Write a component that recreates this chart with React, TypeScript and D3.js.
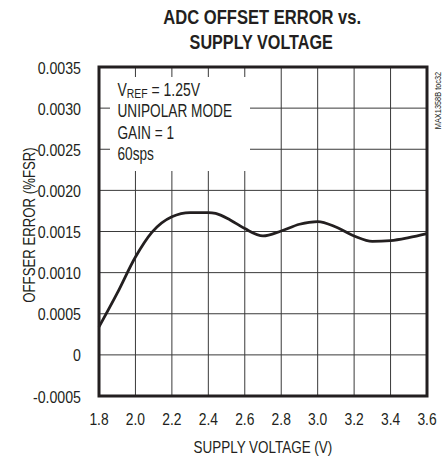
import React from "react";
import * as d3 from "d3";

const voltages = [1.8, 1.9, 2.0, 2.09, 2.2, 2.3, 2.4, 2.44, 2.52, 2.6, 2.7, 2.8, 2.9, 3.0, 3.1, 3.2, 3.3, 3.4, 3.5, 3.6];
const offsetErr = [0.00034, 0.00075, 0.00119, 0.00149, 0.00168, 0.00173, 0.00173, 0.00172, 0.00164, 0.001535, 0.001446, 0.001506, 0.001588, 0.00162, 0.001555, 0.001446, 0.00138, 0.00139, 0.001426, 0.001474];
const xTicks = [1.8, 2.0, 2.2, 2.4, 2.6, 2.8, 3.0, 3.2, 3.4, 3.6];
const yTicks = [-0.0005, 0, 0.0005, 0.001, 0.0015, 0.002, 0.0025, 0.003, 0.0035];
const yTickLabels = ["-0.0005", "0", "0.0005", "0.0010", "0.0015", "0.0020", "0.0025", "0.0030", "0.0035"];
const noteLines = ["UNIPOLAR MODE", "GAIN = 1", "60sps"];

const FONT = "'Liberation Sans', Arial, sans-serif";

type TProps = {
  x: number; y: number; sx: number; size: number; anchor?: string; weight?: string; rotate?: number; children: React.ReactNode;
};
function T({ x, y, sx, size, anchor = "start", weight = "normal", rotate, children }: TProps) {
  const tr = `translate(${x},${y})${rotate ? ` rotate(${rotate})` : ""} scale(${sx},1)`;
  return (
    <text transform={tr} fontSize={size} fontWeight={weight} textAnchor={anchor} fill="#231f20">
      {children}
    </text>
  );
}

export default function App() {
  const W = 448, H = 459;
  const left = 99, right = 427, top = 67, bottom = 396;
  const x = d3.scaleLinear().domain([1.8, 3.6]).range([left, right]);
  const y = d3.scaleLinear().domain([-0.0005, 0.0035]).range([bottom, top]);
  const line = d3.line<number>()
    .x((_, i) => x(voltages[i]))
    .y((d) => y(d))
    .curve(d3.curveMonotoneX);
  return (
    <svg width={W} height={H} style={{ position: "absolute", left: 0, top: 0 }} fontFamily={FONT}>
      <rect x={0} y={0} width={W} height={H} fill="#fff" />
      <T x={262.2} y={24} sx={0.85} size={19.5} anchor="middle" weight="bold">ADC OFFSET ERROR vs.</T>
      <T x={261.2} y={49} sx={0.83} size={19.5} anchor="middle" weight="bold">SUPPLY VOLTAGE</T>
      {xTicks.slice(1, -1).map((t) => (
        <line key={"gx" + t} x1={x(t)} x2={x(t)} y1={top} y2={bottom} stroke="#3a3a3a" strokeWidth={1} />
      ))}
      {yTicks.slice(1, -1).map((t) => (
        <line key={"gy" + t} x1={left} x2={right} y1={y(t)} y2={y(t)} stroke="#3a3a3a" strokeWidth={1} />
      ))}
      <rect x={110} y={77} width={140} height={94} fill="#fff" />
      <T x={117.5} y={95.7} sx={0.8} size={17.5}>
        V<tspan fontSize={13} dy={2.5}>REF</tspan><tspan dy={-2.5}> = 1.25V</tspan>
      </T>
      {noteLines.map((s, i) => (
        <T key={s} x={117.5} y={116.9 + i * 21.6} sx={0.78} size={17.5}>{s}</T>
      ))}
      <path d={line(offsetErr) || ""} fill="none" stroke="#231f20" strokeWidth={2.8} strokeLinejoin="round" />
      <rect x={left} y={top} width={right - left} height={bottom - top} fill="none" stroke="#231f20" strokeWidth={3} />
      {yTicks.map((t, i) => (
        <T key={"yl" + t} x={81} y={y(t) + 6.5} sx={0.87} size={16.3} anchor="end">{yTickLabels[i]}</T>
      ))}
      {xTicks.map((t) => (
        <T key={"xl" + t} x={x(t)} y={425} sx={0.85} size={16.3} anchor="middle">{t.toFixed(1)}</T>
      ))}
      <T x={262.9} y={452.5} sx={0.815} size={16.5} anchor="middle">SUPPLY VOLTAGE (V)</T>
      <T x={35} y={225} sx={0.8} size={16.5} anchor="middle" rotate={-90}>OFFSER ERROR (%FSR)</T>
      <T x={441} y={100.5} sx={0.82} size={9} anchor="middle" rotate={-90}>MAX1358B toc32</T>
    </svg>
  );
}
